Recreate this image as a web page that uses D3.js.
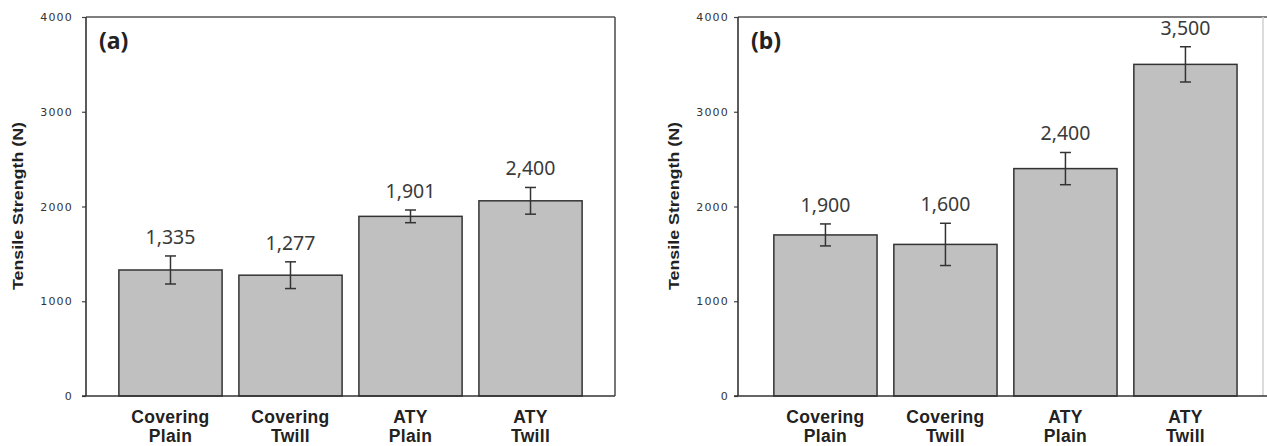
<!DOCTYPE html>
<html>
<head>
<meta charset="utf-8">
<script src="https://cdn.jsdelivr.net/npm/d3@7"></script>
<style>
    body { margin: 0; background: #fff; }
    svg { display: block; }
    .tick text { font-family: "DejaVu Sans", sans-serif; font-size: 11px; letter-spacing: 1.2px; fill: #333; }
    .tick line { stroke: #444; stroke-width: 1.2; }
    .domain { display: none; }
    .frame { fill: none; stroke: #555; stroke-width: 1.6; }
    .bar { fill: #c0c0c0; stroke: #333; stroke-width: 1.5; }
    .err { stroke: #333; stroke-width: 1.5; }
    .val { font-family: "Noto Sans", sans-serif; font-size: 19.5px; fill: #3a3a3a; text-anchor: middle; }
    .cat { font-family: "Liberation Sans", Arial, sans-serif; font-weight: bold; font-size: 17.5px; letter-spacing: 0.3px; fill: #222; text-anchor: middle; }
    .ytitle { font-family: "Liberation Sans", Arial, sans-serif; font-weight: bold; font-size: 14px; fill: #222; text-anchor: middle; }
    .tag { font-family: "Noto Sans", sans-serif; font-weight: bold; font-size: 23px; fill: #222; }
</style>
</head>
<body>
<div class="graph"></div>
<script>
    // data
    const categories = [["Covering", "Plain"], ["Covering", "Twill"], ["ATY", "Plain"], ["ATY", "Twill"]];
    const yTicks = [0, 1000, 2000, 3000, 4000];

    const valuesA = [1330, 1275, 1896, 2060];
    const errorsA = [148, 141, 67, 141];
    const labelsA = ["1,335", "1,277", "1,901", "2,400"];

    const valuesB = [1700, 1600, 2400, 3500];
    const errorsB = [116, 223, 170, 186];
    const labelsB = ["1,900", "1,600", "2,400", "3,500"];

    const width = 1267, height = 446;

    const svg = d3.select(".graph").append("svg")
        .attr("width", width)
        .attr("height", height);

    function drawPanel(opts, values, errors, labels) {
        const g = svg.append("g");

        const x = d3.scaleBand()
            .domain(d3.range(categories.length))
            .range([opts.left, opts.right])
            .paddingInner(0.14)
            .paddingOuter(opts.padOuter)
            .align(opts.align);

        const y = d3.scaleLinear()
            .domain([0, 4000])
            .range([396, 17]);

        // frame (top + right)
        g.append("line").attr("class", "frame")
            .attr("x1", opts.left).attr("x2", opts.frameRight)
            .attr("y1", y(4000)).attr("y2", y(4000));
        g.append("line").attr("class", "frame")
            .attr("x1", opts.right).attr("x2", opts.right)
            .attr("y1", y(4000)).attr("y2", y(0))
            .style("stroke", opts.rightColor);

        // y axis
        g.append("g")
            .attr("transform", "translate(" + opts.left + ",0)")
            .call(d3.axisLeft(y).tickValues(yTicks).tickSize(4).tickPadding(opts.tickPad).tickFormat(d3.format("d")));

        // bars
        g.selectAll("rect.bar")
            .data(values)
            .enter()
            .append("rect")
            .attr("class", "bar")
            .attr("x", function (d, i) { return x(i); })
            .attr("y", function (d) { return y(d); })
            .attr("width", x.bandwidth())
            .attr("height", function (d) { return y(0) - y(d); });

        // error bars
        const cx = function (i) { return x(i) + x.bandwidth() / 2; };
        const err = g.selectAll("g.errbar")
            .data(values)
            .enter()
            .append("g")
            .attr("class", "errbar");
        err.append("line").attr("class", "err")
            .attr("x1", function (d, i) { return cx(i); })
            .attr("x2", function (d, i) { return cx(i); })
            .attr("y1", function (d, i) { return y(d + errors[i]); })
            .attr("y2", function (d, i) { return y(d - errors[i]); });
        [1, -1].forEach(function (s) {
            err.append("line").attr("class", "err")
                .attr("x1", function (d, i) { return cx(i) - 5.5; })
                .attr("x2", function (d, i) { return cx(i) + 5.5; })
                .attr("y1", function (d, i) { return y(d + s * errors[i]); })
                .attr("y2", function (d, i) { return y(d + s * errors[i]); });
        });

        // value labels
        g.selectAll("text.val")
            .data(labels)
            .enter()
            .append("text")
            .attr("class", "val")
            .attr("x", function (d, i) { return cx(i); })
            .attr("y", function (d, i) { return y(values[i] + errors[i]) - 12; })
            .text(function (d) { return d; });

        // bottom axis line
        g.append("line")
            .attr("x1", opts.left - 4).attr("x2", opts.frameRight)
            .attr("y1", y(0)).attr("y2", y(0))
            .style("stroke", "#333").style("stroke-width", 1.6);
        g.append("line")
            .attr("x1", opts.left).attr("x2", opts.left)
            .attr("y1", y(4000)).attr("y2", y(0))
            .style("stroke", "#333").style("stroke-width", 1.6);

        // category labels
        const cat = g.selectAll("text.cat")
            .data(categories)
            .enter()
            .append("text")
            .attr("class", "cat")
            .attr("x", function (d, i) { return cx(i); })
            .attr("y", y(0) + 27);
        cat.append("tspan").text(function (d) { return d[0]; });
        cat.append("tspan")
            .attr("x", function (d, i) { return cx(i); })
            .attr("dy", 19)
            .text(function (d) { return d[1]; });

        // y title
        g.append("text")
            .attr("class", "ytitle")
            .attr("transform", "translate(" + opts.titleX + ",206) rotate(-90)")
            .attr("textLength", 168)
            .attr("lengthAdjust", "spacingAndGlyphs")
            .text("Tensile Strength (N)");

        // panel tag
        g.append("text")
            .attr("class", "tag")
            .attr("x", opts.left + 13)
            .attr("y", 49)
            .text(opts.tag);
    }

    drawPanel({left: 86, right: 615, frameRight: 615, padOuter: 0.274, align: 0.5, tickPad: 9,
        titleX: 23, rightColor: "#555", tag: "(a)"}, valuesA, errorsA, labelsA);
    drawPanel({left: 738, right: 1263, frameRight: 1267, padOuter: 0.2575, align: 0.58, tickPad: 5,
        titleX: 679, rightColor: "#d4d4d4", tag: "(b)"}, valuesB, errorsB, labelsB);
</script>
</body>
</html>
